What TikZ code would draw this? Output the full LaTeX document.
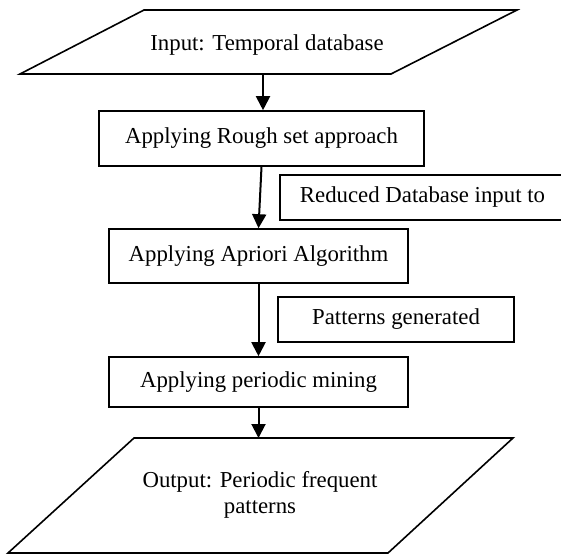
\documentclass[tikz,border=0pt]{standalone}
\usepackage{fontspec}
\setmainfont{Liberation Serif}
\usetikzlibrary{arrows.meta}
\tikzset{
  shapeline/.style={draw=black, line width=1.6pt, line join=miter},
  stepbox/.style={shapeline, rectangle, inner sep=0pt, fill=white},
  txt/.style={font=\fontsize{22.8}{26}\selectfont, inner sep=0pt, align=center},
  flow/.style={draw=black, line width=2pt, -{Triangle[width=14pt,length=14pt]}},
}
\begin{document}
\begin{tikzpicture}[x=1pt,y=-1pt]
\clip (0,0) rectangle (561,553);
\fill[white] (0,0) rectangle (561,553);
% input parallelogram
\draw[shapeline] (144,10) -- (517,10) -- (391,74) -- (20,74) -- cycle;
\node[txt] (intext) at (267,45) {Input: Temporal database};
\coordinate (inbot) at (263,74);
% boxes
\node[stepbox, minimum width=325pt, minimum height=55pt, txt] (b1) at (261.5,138.5) {Applying Rough set approach};
\node[stepbox, minimum width=285pt, minimum height=45pt, txt] (red) at (422.5,197.5) {Reduced Database input to};
\node[stepbox, minimum width=299pt, minimum height=54pt, txt] (b2) at (258.5,256) {Applying Apriori Algorithm};
\node[stepbox, minimum width=236pt, minimum height=45pt, txt] (pat) at (396,319.5) {Patterns generated};
\node[stepbox, minimum width=299pt, minimum height=50pt, txt] (b3) at (258.5,382) {Applying periodic mining};
% output parallelogram
\draw[shapeline] (134,438) -- (513,438) -- (388,553) -- (8,553) -- cycle;
\node[txt] (outtext) at (260,495) {Output: Periodic frequent\\patterns};
\coordinate (outtop) at (258.5,438);
% connectors
\draw[flow] (inbot) -- (inbot |- b1.north);
\draw[flow] (b1.south) -- (b2.north);
\draw[flow] (b2.south) -- (b3.north);
\draw[flow] (b3.south) -- (outtop);
\end{tikzpicture}
\end{document}
